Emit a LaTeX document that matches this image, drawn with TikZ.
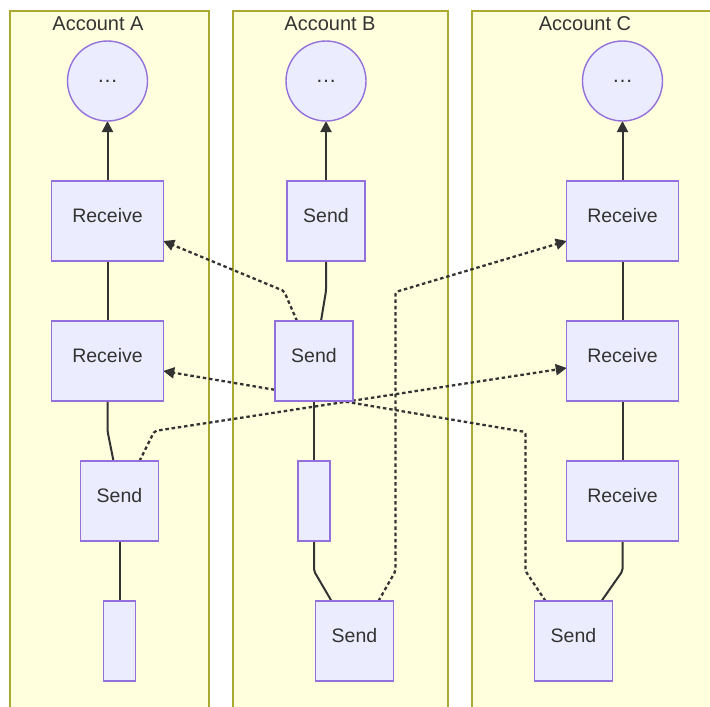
\documentclass[tikz,border=0pt]{standalone}
\usepackage{fontspec}
\setmainfont{Liberation Sans}
\usepackage{tikz}
\usetikzlibrary{arrows.meta,positioning,calc,backgrounds}
\definecolor{lanefill}{HTML}{FFFFDE}
\definecolor{laneline}{HTML}{AAAA33}
\definecolor{nodefill}{HTML}{ECECFF}
\definecolor{nodeline}{HTML}{9370DB}
\definecolor{inkgray}{HTML}{333333}
\tikzstyle{lane} = [draw=laneline, fill=lanefill, line width=1.2pt]
\tikzstyle{lanetitle} = [text=inkgray, font=\fontsize{20}{23}\selectfont]
\tikzstyle{txbox} = [rectangle, draw=nodeline, fill=nodefill, line width=1.4pt,
    minimum height=80pt, inner sep=0pt, outer sep=0pt, text=inkgray,
    font=\fontsize{19.5}{22}\selectfont, text depth=11pt]
\tikzstyle{recvbox} = [txbox, minimum width=111.5pt]
\tikzstyle{sendbox} = [txbox, minimum width=78pt]
\tikzstyle{stub} = [txbox, minimum width=31.7pt]
\tikzstyle{more} = [circle, draw=nodeline, fill=nodefill, line width=1.4pt,
    minimum size=80pt, inner sep=0pt, outer sep=0pt, text=inkgray,
    font=\fontsize{21}{24}\selectfont]
\tikzstyle{link} = [draw=inkgray, line width=2pt, rounded corners=2pt]
\tikzstyle{arrow} = [link, -{Triangle[length=11pt,width=11pt]}]
\tikzstyle{transfer} = [arrow, line width=2.3pt, dash pattern=on 3.5pt off 2.8pt]

\begin{document}
\begin{tikzpicture}[x=1pt, y=-1pt, node distance=60pt]
\useasboundingbox (0,0) rectangle (710,707);

% ── Lanes ────
\begin{scope}[on background layer]
\draw[lane] (10,11) rectangle (209,730);
\draw[lane] (233,11) rectangle (448,730);
\draw[lane] (472,11) rectangle (740,730);
\end{scope}
\node[lanetitle] (titleA) at (98,23.5) {Account A};
\node[lanetitle] (titleB) at (330,23.5) {Account B};
\node[lanetitle] (titleC) at (585,23.5) {Account C};

% ── Account A ────
\node[more] (moreA) at (107.5,81) {…};
\node[recvbox, below=of moreA] (recvA1) {Receive};
\node[recvbox, below=of recvA1] (recvA2) {Receive};
\node[sendbox, below=of recvA2, xshift=12pt] (sendA) {Send};
\node[stub, below=of sendA] (stubA) {};

% ── Account B ────
\node[more] (moreB) at (326,81) {…};
\node[sendbox, below=of moreB] (sendB1) {Send};
\node[sendbox, below=of sendB1, xshift=-12pt] (sendB2) {Send};
\node[stub, below=of sendB2] (stubB) {};
\node[sendbox, below=of stubB, xshift=40.5pt] (sendB3) {Send};

% ── Account C ────
\node[more] (moreC) at (622.5,81) {…};
\node[recvbox, below=of moreC] (recvC1) {Receive};
\node[recvbox, below=of recvC1] (recvC2) {Receive};
\node[recvbox, below=of recvC2] (recvC3) {Receive};
\node[sendbox, below=of recvC3, xshift=-49pt] (sendC) {Send};

\begin{scope}[on background layer]
% ── Chains ────
\draw[arrow] (recvA1) -- (moreA);
\draw[link] (recvA1) -- (recvA2);
\draw[link] (recvA2.south) -- ++(0,30) -- ([xshift=-6pt]sendA.north);
\draw[link] (sendA) -- (stubA);
\draw[arrow] (sendB1) -- (moreB);
\draw[link] (sendB1.south) -- ++(0,30) -- ([xshift=7pt]sendB2.north);
\draw[link] (sendB2) -- (stubB);
\draw[link] (stubB.south) -- ++(0,30) -- ([xshift=-23pt]sendB3.north);
\draw[arrow] (recvC1) -- (moreC);
\draw[link] (recvC1) -- (recvC2);
\draw[link] (recvC2) -- (recvC3);
\draw[link] (recvC3.south) -- ++(0,30) -- ([xshift=28pt]sendC.north);

% ── Transfers ────
\draw[transfer] ([xshift=-17pt]sendB2.north) -- ++(-13,-30) -- ([yshift=-20pt]recvA1.east);
\draw[transfer] ([xshift=-28pt]sendC.north) -- ++(-20,-30) -- ++(0,-139) -- ([yshift=-10pt]recvA2.east);
\draw[transfer] ([xshift=20pt]sendA.north) -- ++(15,-30) -- ([yshift=-7pt]recvC2.west);
\draw[transfer] ([xshift=24pt]sendB3.north) -- ++(17,-30) -- ++(0,-279) -- ([yshift=-20pt]recvC1.west);
\end{scope}

\end{tikzpicture}
\end{document}
